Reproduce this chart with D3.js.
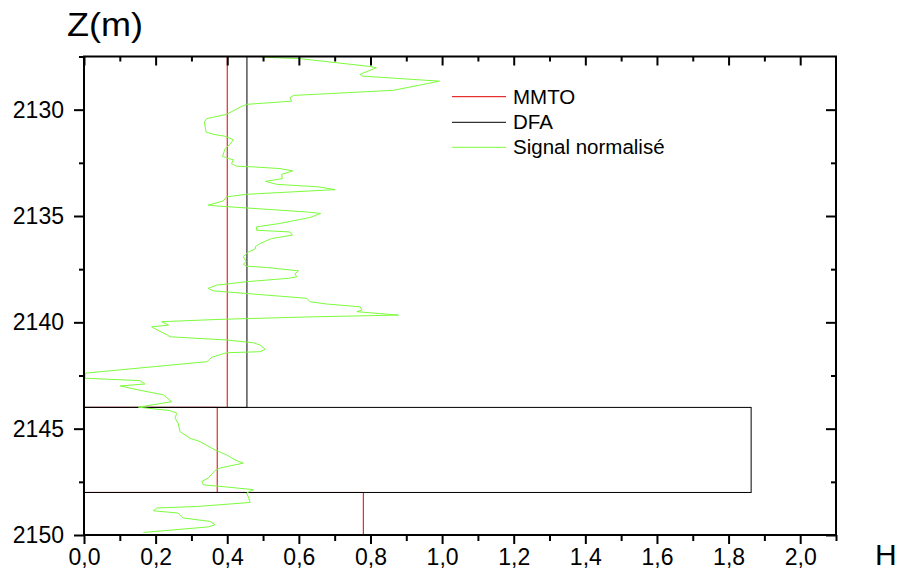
<!DOCTYPE html>
<html>
<head>
<meta charset="utf-8">
<script src="https://cdn.jsdelivr.net/npm/d3@7/dist/d3.min.js"></script>
<style>
  html, body { margin: 0; padding: 0; background: #fff; }
  svg { display: block; font-family: "Liberation Sans", Arial, sans-serif; }
</style>
</head>
<body>
<svg id="chart" width="901" height="573"></svg>
<script>
// ---- data ----
const xMajorTicks = [0, 0.2, 0.4, 0.6, 0.8, 1.0, 1.2, 1.4, 1.6, 1.8, 2.0];
const xMinorTicks = [0.1, 0.3, 0.5, 0.7, 0.9, 1.1, 1.3, 1.5, 1.7, 1.9, 2.1];
const yMajorTicks = [2130, 2135, 2140, 2145, 2150];
const yMinorTicks = [2127.5, 2132.5, 2137.5, 2142.5, 2147.5];

const mmtoBounds = [2127.5, 2144, 2148, 2150];
const mmtoValues = [0.40, 0.372, 0.78];
const dfaBounds = [2127.5, 2144, 2148];
const dfaValues = [0.455, 1.863];

const signalDepth = [2127.53,2127.60,2127.97,2128.03,2128.34,2128.42,2128.66,2129.09,2129.33,2129.44,2129.60,2129.75,2129.85,2130.22,2130.42,2130.58,2131.05,2131.16,2131.25,2131.41,2131.63,2131.83,2132.19,2132.30,2132.35,2132.54,2132.66,2132.69,2132.77,2132.88,2133.04,2133.24,2133.37,2133.51,2133.63,2133.76,2133.98,2134.10,2134.29,2134.49,2134.54,2134.81,2134.88,2135.07,2135.35,2135.51,2135.67,2135.75,2135.90,2136.06,2136.29,2136.45,2136.53,2136.69,2136.92,2137.15,2137.26,2137.36,2137.42,2137.58,2137.73,2137.86,2137.93,2138.09,2138.25,2138.40,2138.52,2138.67,2138.87,2139.03,2139.14,2139.27,2139.42,2139.50,2139.66,2139.74,2139.86,2139.97,2140.13,2140.21,2140.28,2140.60,2140.68,2140.83,2140.96,2141.07,2141.27,2141.38,2141.43,2141.64,2141.80,2141.85,2142.39,2142.63,2142.74,2142.90,2142.99,2143.18,2143.41,2143.73,2143.99,2144.15,2144.27,2144.51,2144.74,2145.14,2145.45,2145.61,2146.00,2146.23,2146.47,2146.62,2146.85,2146.97,2147.32,2147.48,2147.64,2147.75,2147.87,2148.03,2148.22,2148.47,2148.66,2148.73,2148.86,2148.97,2149.20,2149.36,2149.52,2149.62,2149.88];
const signalValue = [0.496,0.603,0.799,0.816,0.771,0.776,0.993,0.864,0.585,0.575,0.580,0.454,0.440,0.398,0.343,0.336,0.341,0.361,0.394,0.417,0.408,0.394,0.387,0.403,0.417,0.412,0.426,0.473,0.547,0.583,0.552,0.554,0.507,0.538,0.655,0.701,0.454,0.398,0.389,0.347,0.380,0.622,0.661,0.631,0.547,0.482,0.482,0.575,0.582,0.524,0.492,0.478,0.480,0.459,0.445,0.453,0.445,0.454,0.510,0.599,0.589,0.594,0.571,0.454,0.371,0.347,0.361,0.473,0.622,0.631,0.678,0.771,0.776,0.762,0.878,0.641,0.380,0.217,0.236,0.189,0.196,0.233,0.240,0.398,0.473,0.492,0.506,0.492,0.398,0.357,0.347,0.343,0.003,0.003,0.156,0.170,0.101,0.152,0.222,0.245,0.152,0.240,0.259,0.254,0.263,0.268,0.296,0.324,0.366,0.398,0.422,0.445,0.380,0.366,0.347,0.329,0.333,0.403,0.473,0.454,0.459,0.464,0.315,0.203,0.194,0.263,0.277,0.352,0.366,0.347,0.166];

const legendLabels = ["MMTO", "DFA", "Signal normalisé"];
const legendColors = ["#e00000", "#000000", "#7cfc3c"];

// ---- layout ----
const L = 84, R = 836, T = 56.5, B = 535;
const svg = d3.select("#chart");
const x = d3.scaleLinear().domain([0, 2.1]).range([L, R]);
const y = d3.scaleLinear().domain([2127.5, 2150]).range([T, B]);

svg.append("defs").append("clipPath").attr("id", "clip")
  .append("rect").attr("x", L).attr("y", T).attr("width", R - L).attr("height", B - T);

const plot = svg.append("g").attr("clip-path", "url(#clip)");

function stepRects(bounds, values, color) {
  const data = values.map((v, i) => ({ v, d0: bounds[i], d1: bounds[i + 1] }));
  plot.append("g").selectAll("rect").data(data).join("rect")
    .attr("x", x(0)).attr("y", d => y(d.d0))
    .attr("width", d => x(d.v) - x(0)).attr("height", d => y(d.d1) - y(d.d0))
    .attr("fill", "none").attr("stroke", color).attr("stroke-width", 1);
}
stepRects(mmtoBounds, mmtoValues, legendColors[0]);
stepRects(dfaBounds, dfaValues, legendColors[1]);

const sig = signalDepth.map((d, i) => [signalValue[i], d]);
plot.append("path").datum(sig)
  .attr("d", d3.line().x(p => x(p[0])).y(p => y(p[1])))
  .attr("fill", "none").attr("stroke", legendColors[2]).attr("stroke-width", 1);

// ---- axes ----
const fmt = d => d.toFixed(1).replace(".", ",");
function styleAxis(g) {
  g.select(".domain").remove();
  g.selectAll("line").attr("stroke", "#000").attr("stroke-width", 2);
  g.selectAll("text").attr("fill", "#000").attr("font-size", 23)
    .attr("font-family", "Liberation Sans, Arial, sans-serif");
}
svg.append("g").attr("transform", `translate(0,${B})`)
  .call(d3.axisBottom(x).tickValues(xMajorTicks).tickFormat(fmt).tickSize(9).tickPadding(5)).call(styleAxis);
svg.append("g").attr("transform", `translate(0,${B})`)
  .call(d3.axisBottom(x).tickValues(xMinorTicks).tickFormat("").tickSize(6)).call(styleAxis);
svg.append("g").attr("transform", `translate(0,${T})`)
  .call(d3.axisTop(x).tickValues(xMajorTicks).tickFormat("").tickSize(-9)).call(styleAxis);
svg.append("g").attr("transform", `translate(0,${T})`)
  .call(d3.axisTop(x).tickValues(xMinorTicks.filter(v => v < 2.1)).tickFormat("").tickSize(-5)).call(styleAxis);

svg.append("g").attr("transform", `translate(${L},0)`)
  .call(d3.axisLeft(y).tickValues(yMajorTicks).tickFormat(d3.format("d")).tickSize(10).tickPadding(10)).call(styleAxis);
svg.append("g").attr("transform", `translate(${L},0)`)
  .call(d3.axisLeft(y).tickValues(yMinorTicks).tickFormat("").tickSize(5)).call(styleAxis);
svg.append("g").attr("transform", `translate(${R},0)`)
  .call(d3.axisRight(y).tickValues(yMajorTicks).tickFormat("").tickSize(-10)).call(styleAxis);
svg.append("g").attr("transform", `translate(${R},0)`)
  .call(d3.axisRight(y).tickValues(yMinorTicks.filter(v => v > 2127.5)).tickFormat("").tickSize(-5)).call(styleAxis);

svg.append("rect").attr("x", L).attr("y", T).attr("width", R - L).attr("height", B - T)
  .attr("fill", "none").attr("stroke", "#000").attr("stroke-width", 2);

// ---- titles ----
svg.append("text").attr("x", 67).attr("y", 36).attr("font-size", 33).attr("fill", "#000")
  .attr("textLength", 76).attr("lengthAdjust", "spacingAndGlyphs").text("Z(m)");
svg.append("text").attr("x", 875).attr("y", 565).attr("font-size", 30).attr("fill", "#000").text("H");

// ---- legend ----
const leg = svg.append("g");
const legY = [96.7, 122.3, 147.3];
legendLabels.forEach((lab, i) => {
  leg.append("line").attr("x1", 452).attr("x2", 506).attr("y1", legY[i]).attr("y2", legY[i])
    .attr("stroke", legendColors[i]).attr("stroke-width", 1);
  leg.append("text").attr("x", 513).attr("y", legY[i]).attr("dy", "0.35em")
    .attr("font-size", 20.5).attr("fill", "#000").text(lab);
});
</script>
</body>
</html>
